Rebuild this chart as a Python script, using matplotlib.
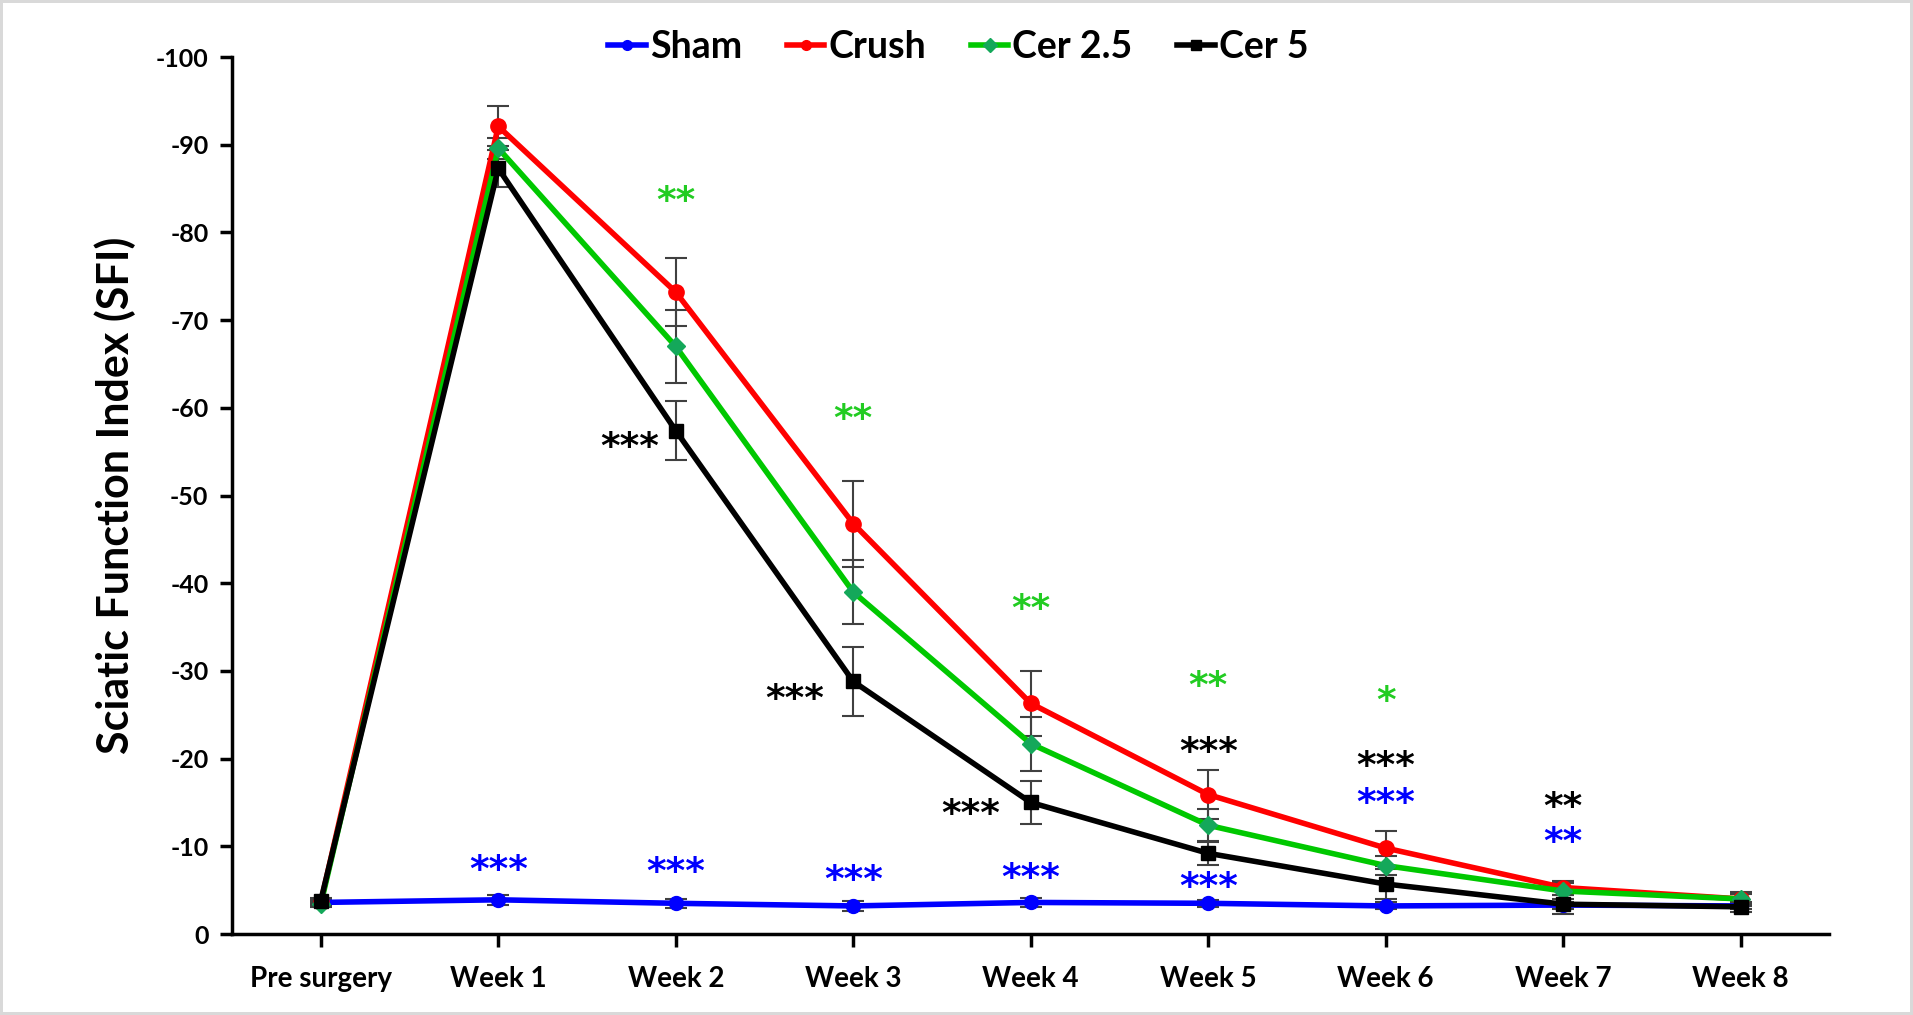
import matplotlib
matplotlib.use("Agg")
import matplotlib.pyplot as plt
from matplotlib import font_manager

names = set(f.name for f in font_manager.fontManager.ttflist)
narrow = "Liberation Sans Narrow" if "Liberation Sans Narrow" in names else "Lato"

plt.rcParams['axes.unicode_minus'] = False
plt.rcParams['font.family'] = ['Lato', 'DejaVu Sans']

timepoints = ["Pre surgery", "Week 1", "Week 2", "Week 3", "Week 4",
              "Week 5", "Week 6", "Week 7", "Week 8"]
groups = ["Sham", "Crush", "Cer 2.5", "Cer 5"]

# SFI means (negative values) and errors
sham = [-3.6, -3.9, -3.5, -3.2, -3.6, -3.5, -3.2, -3.3, -3.2]
crush = [-3.6, -92.1, -73.2, -46.8, -26.3, -15.9, -9.8, -5.3, -4.0]
cer25 = [-3.4, -89.6, -67.0, -39.0, -21.7, -12.4, -7.8, -4.9, -4.0]
cer5 = [-3.8, -87.3, -57.4, -28.8, -15.0, -9.2, -5.7, -3.4, -3.1]

sham_err = [0.3, 0.6, 0.5, 0.6, 0.5, 0.4, 0.4, 0.4, 0.3]
crush_err = [0.3, 2.3, 3.9, 4.9, 3.7, 2.8, 2.0, 0.8, 0.6]
cer25_err = [0.3, 1.2, 4.2, 3.6, 3.1, 1.8, 1.1, 0.9, 0.8]
cer5_err = [0.3, 2.1, 3.4, 3.9, 2.5, 1.3, 1.7, 1.1, 0.6]

# significance marks
star_text = ["***", "***", "***", "***", "***", "***", "**",
             "***", "***", "***", "***", "***", "**",
             "**", "**", "**", "**", "*"]
star_x = [1.0, 2.0, 3.0, 4.0, 5.0, 6.0, 7.0,
          1.74, 2.67, 3.66, 5.0, 6.0, 7.0,
          2.0, 3.0, 4.0, 5.0, 6.0]
star_y = [-7.2, -7.0, -6.0, -6.3, -5.3, -14.8, -10.4,
          -55.4, -26.7, -13.6, -20.6, -19.1, -14.4,
          -83.5, -58.6, -36.9, -28.2, -26.4]
star_color = ["#0000FF"] * 7 + ["black"] * 6 + ["#22CC22"] * 5

colors = ["#0000FF", "#FF0000", "#00C800", "black"]
marker_colors = ["#0000FF", "#FF0000", "#14A85A", "black"]
markers = ["o", "o", "D", "s"]
msizes = [10, 11, 9, 10]

fig = plt.figure(figsize=(19.13, 10.15), dpi=100)
fig.patch.set_edgecolor("#D9D9D9")
fig.patch.set_linewidth(3)
ax = fig.add_axes([0.1213, 0.0798, 0.835, 0.864])

x = list(range(len(timepoints)))
series = [sham, crush, cer25, cer5]
errs = [sham_err, crush_err, cer25_err, cer5_err]

for vals, err in zip(series, errs):
    ax.errorbar(x, vals, yerr=err, fmt="none", ecolor="#404040",
                elinewidth=1.5, capsize=8, capthick=1.5, zorder=2)

for i, (vals, name) in enumerate(zip(series, groups)):
    ax.plot(x, vals, color=colors[i], lw=4, marker=markers[i],
            markersize=msizes[i], markerfacecolor=marker_colors[i],
            markeredgecolor=marker_colors[i], label=name, zorder=3 + i)

for t, sx, sy, c in zip(star_text, star_x, star_y, star_color):
    ax.text(sx, sy, t, color=c, fontsize=27, fontweight="bold",
            family="DejaVu Sans", ha="center", va="center")

ax.set_xlim(-0.5, 8.5)
ax.set_ylim(0, -100)
ax.set_yticks(range(0, -101, -10))
ax.set_xticks(x)
ax.set_xticklabels(timepoints)
ax.spines["top"].set_visible(False)
ax.spines["right"].set_visible(False)
ax.spines["left"].set_linewidth(2.5)
ax.spines["bottom"].set_linewidth(2.5)
ax.tick_params(axis="both", width=2.5, length=9)
ax.tick_params(axis="x", pad=14, labelsize=20)
ax.tick_params(axis="y", pad=8, labelsize=18)
for lab in ax.get_xticklabels() + ax.get_yticklabels():
    lab.set_fontweight("bold")
ax.set_ylabel("Sciatic Function Index (SFI)", fontsize=31, fontweight="bold",
              labelpad=14)

leg = fig.legend(loc="center", bbox_to_anchor=(0.501, 0.954), ncol=4,
                 frameon=False, handlelength=1.0,
                 handletextpad=0.1, columnspacing=1.2,
                 prop={"weight": "bold", "size": 27, "family": narrow})
for h in leg.legend_handles:
    h.set_markersize(7)

fig.savefig("out.png", dpi=100, edgecolor=fig.get_edgecolor())
